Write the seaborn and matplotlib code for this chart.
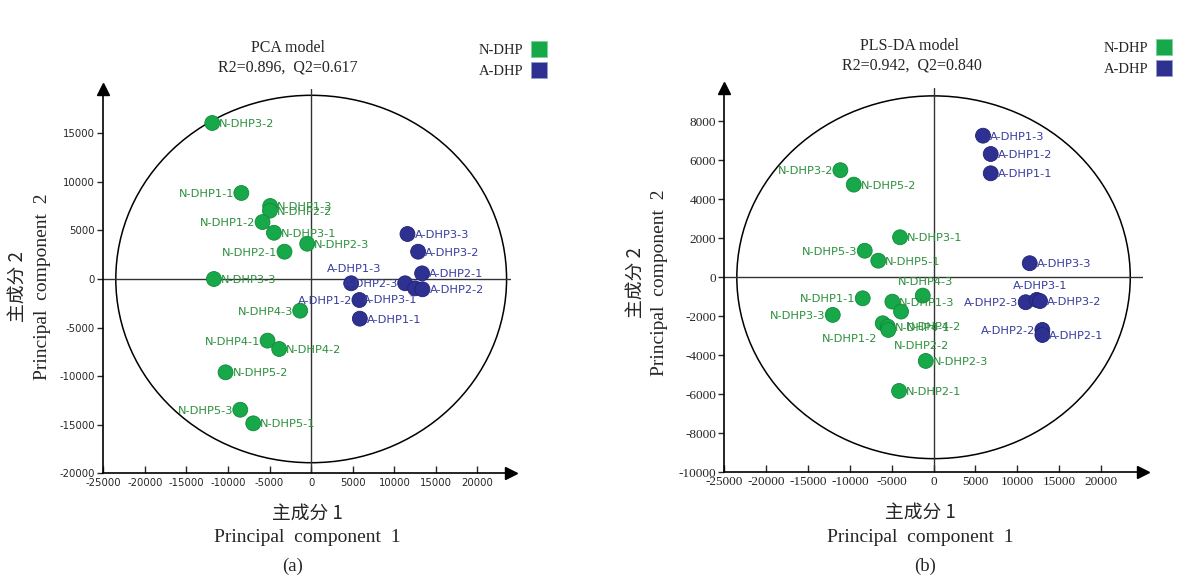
import pandas as pd
import seaborn as sns
import matplotlib.pyplot as plt
from matplotlib.patches import Ellipse
from matplotlib.lines import Line2D
from matplotlib.font_manager import FontProperties

sns.set_style('white')
plt.rcParams['font.family'] = ['DejaVu Sans']
plt.rcParams['axes.unicode_minus'] = False

# ---- (a) PCA scores ----
pca_names = ['N-DHP3-2', 'N-DHP1-1', 'N-DHP1-3', 'N-DHP2-2', 'N-DHP1-2', 'N-DHP3-1',
             'N-DHP2-1', 'N-DHP2-3', 'N-DHP3-3', 'N-DHP4-3', 'N-DHP4-1', 'N-DHP4-2',
             'N-DHP5-2', 'N-DHP5-3', 'N-DHP5-1',
             'A-DHP3-3', 'A-DHP3-2', 'A-DHP2-1', 'A-DHP1-3', 'A-DHP2-3', 'A-DHP3-1',
             'A-DHP2-2', 'A-DHP1-2', 'A-DHP1-1']
pca_t1 = [-11900, -8400, -4930, -4960, -5850, -4480, -3210, -480, -11700, -1320, -5250, -3850,
          -10300, -8530, -6970,
          11580, 12860, 13340, 4810, 11300, 12500, 13380, 5800, 5850]
pca_t2 = [16050, 8850, 7510, 7030, 5860, 4760, 2810, 3630, 0, -3260, -6340, -7200,
          -9600, -13450, -14850,
          4630, 2810, 580, -440, -440, -960, -1060, -2160, -4080]

# ---- (b) PLS-DA scores ----
pls_names = ['N-DHP3-2', 'N-DHP5-2', 'N-DHP3-1', 'N-DHP5-3', 'N-DHP5-1', 'N-DHP4-3',
             'N-DHP1-1', 'N-DHP1-3', 'N-DHP4-2', 'N-DHP1-2', 'N-DHP4-1', 'N-DHP2-2',
             'N-DHP3-3', 'N-DHP2-3', 'N-DHP2-1',
             'A-DHP1-3', 'A-DHP1-2', 'A-DHP1-1', 'A-DHP3-3', 'A-DHP2-3', 'A-DHP3-1',
             'A-DHP3-2', 'A-DHP2-2', 'A-DHP2-1']
pls_t1 = [-11130, -9530, -4000, -8220, -6600, -1290, -8460, -4920, -3880, -6070, -5470, -5400,
          -12040, -930, -4120,
          5910, 6830, 6830, 11490, 11010, 12330, 12720, 13000, 13000]
pls_t2 = [5490, 4750, 2050, 1360, 850, -940, -1080, -1250, -1760, -2360, -2530, -2700,
          -1930, -4290, -5830,
          7260, 6320, 5330, 720, -1280, -1160, -1220, -2700, -2960]

groups = ['N-DHP', 'A-DHP']
green, blue = '#17a84a', '#2e3192'
text_col = {'N-DHP': '#2b8f3c', 'A-DHP': '#363b9c'}

# label placement (offset pixels, ha)
lab_a = {'N-DHP1-1': 'l', 'N-DHP1-2': 'l', 'N-DHP2-1': 'l', 'N-DHP4-3': 'l', 'N-DHP4-1': 'l',
         'N-DHP5-3': 'l', 'A-DHP2-3': 'l', 'A-DHP1-2': 'l', 'A-DHP1-3': 'u',
         'A-DHP3-1': (-52, -12, 'left')}
lab_b = {'N-DHP3-2': 'l', 'N-DHP5-3': 'l', 'N-DHP1-1': 'l', 'N-DHP3-3': 'l', 'N-DHP4-3': 'u',
         'N-DHP4-2': (5, -15, 'left'), 'N-DHP1-2': (-5, -16, 'right'),
         'N-DHP2-2': (6, -16, 'left'), 'A-DHP2-3': 'l', 'A-DHP2-2': 'l', 'A-DHP3-1': 'u'}


def make_df(names, t1, t2):
    df = pd.DataFrame({'name': names, 't1': t1, 't2': t2})
    df['group'] = df['name'].str[:5]
    return df


def panel(ax, df, lab, xlim, ylim, xticks, yticks, ew, eh, tickfont):
    ax.set_xlim(*xlim)
    ax.set_ylim(*ylim)
    ax.add_patch(Ellipse((0, 0), 2 * ew, 2 * eh, fill=False, ec='black', lw=1.1, zorder=1))
    ax.axhline(0, color='#333333', lw=1.0, zorder=1)
    ax.axvline(0, color='#333333', lw=1.0, zorder=1)
    sns.scatterplot(data=df, x='t1', y='t2', hue='group', hue_order=groups,
                    palette=[green, blue], s=115,
                    edgecolor=['#0f8a3a' if g == 'N-DHP' else '#1f2372' for g in df['group']],
                    linewidth=0.6, legend=False, ax=ax, zorder=3)
    for _, r in df.iterrows():
        pos = lab.get(r['name'], 'r')
        if pos == 'r':
            dx, dy, ha = 7, -1, 'left'
        elif pos == 'l':
            dx, dy, ha = -7, -1, 'right'
        elif pos == 'u':
            dx, dy, ha = 3, 14, 'center'
        else:
            dx, dy, ha = pos
        ax.annotate(r['name'], (r['t1'], r['t2']), xytext=(dx, dy), textcoords='offset pixels',
                    ha=ha, va='center', fontsize=8.2, color=text_col[r['group']], zorder=4)
    sns.despine(ax=ax)
    for s in ['left', 'bottom']:
        ax.spines[s].set_color('black')
        ax.spines[s].set_linewidth(1.2)
    ax.set_xticks(xticks)
    ax.set_yticks(yticks)
    ax.tick_params(axis='x', direction='in', length=5, width=1, pad=3)
    ax.tick_params(axis='y', direction='out', length=4, width=1, pad=2)
    ax.tick_params(left=True, bottom=True)
    for t in ax.get_xticklabels() + ax.get_yticklabels():
        t.set_fontproperties(tickfont)
    ax.set_xlabel('')
    ax.set_ylabel('')
    ax.plot(1, 0, '>k', ms=8, transform=ax.transAxes, clip_on=False)
    ax.plot(0, 1, '^k', ms=8, transform=ax.transAxes, clip_on=False)


fig = plt.figure(figsize=(11.85, 5.81), dpi=100)
W, H = 1185, 581


def fx(x):
    return x / W


def fy(y):
    return 1 - y / H


ax1 = fig.add_axes([0.0872, 0.1852, 0.3438, 0.6608])
ax2 = fig.add_axes([0.6112, 0.1871, 0.3532, 0.6613])

sans_tick = FontProperties(family='DejaVu Sans', size=7.3)
serif_tick = FontProperties(family='Liberation Serif', size=9.5)

panel(ax1, make_df(pca_names, pca_t1, pca_t2), lab_a, (-25000, 24000), (-20000, 19500),
      range(-25000, 20001, 5000), range(-20000, 15001, 5000), 23500, 18900, sans_tick)
panel(ax2, make_df(pls_names, pls_t1, pls_t2), lab_b, (-25000, 25000), (-10000, 9700),
      range(-25000, 20001, 5000), range(-10000, 8001, 2000), 23500, 9300, serif_tick)

serif = ['Liberation Serif', 'DejaVu Serif']
cjk = ['Noto Sans CJK SC', 'DejaVu Sans']

# titles
fig.text(fx(288), fy(48), 'PCA model', ha='center', va='center', family=serif, fontsize=11.5)
fig.text(fx(288), fy(68), 'R2=0.896,  Q2=0.617', ha='center', va='center', family=serif, fontsize=11.5)
fig.text(fx(910), fy(46), 'PLS-DA model', ha='center', va='center', family=serif, fontsize=11.5)
fig.text(fx(912), fy(66), 'R2=0.942,  Q2=0.840', ha='center', va='center', family=serif, fontsize=11.5)

# legends
for anchor in [(fx(547), fy(44)), (fx(1172), fy(42))]:
    handles = [Line2D([], [], marker='s', ls='', color=c, mec='#8fa0c8' if c == blue else '#7fd09a',
                      mew=0.6, ms=12) for c in [green, blue]]
    fig.legend(handles, groups, loc='upper right', bbox_to_anchor=anchor, frameon=False,
               markerfirst=False, handlelength=1.1, handletextpad=0.5, labelspacing=0.55,
               borderpad=0, borderaxespad=0, prop={'family': 'Liberation Serif', 'size': 10.5})

# axis titles
for cx, cy_cn, cy_en, capx, cap in [(307, 513, 538, 293, 'a'), (920, 512, 537, 925, 'b')]:
    fig.text(fx(cx), fy(cy_cn), '主成分 1', ha='center', va='center', family=cjk, fontsize=13.5)
    fig.text(fx(cx), fy(cy_en), 'Principal  component  1', ha='center', va='center',
             family=serif, fontsize=14)
    fig.text(fx(capx), fy(566), '(' + cap + ')', ha='center', va='center', family=serif,
             fontsize=13.5)

for cx_cn, cx_en, cy in [(17, 43, 287), (635, 660, 283)]:
    fig.text(fx(cx_cn), fy(cy), '主成分 2', ha='center', va='center', rotation=90,
             family=cjk, fontsize=13.5)
    fig.text(fx(cx_en), fy(cy), 'Principal  component  2', ha='center', va='center',
             rotation=90, family=serif, fontsize=14)

fig.savefig('out.png', dpi=100)
